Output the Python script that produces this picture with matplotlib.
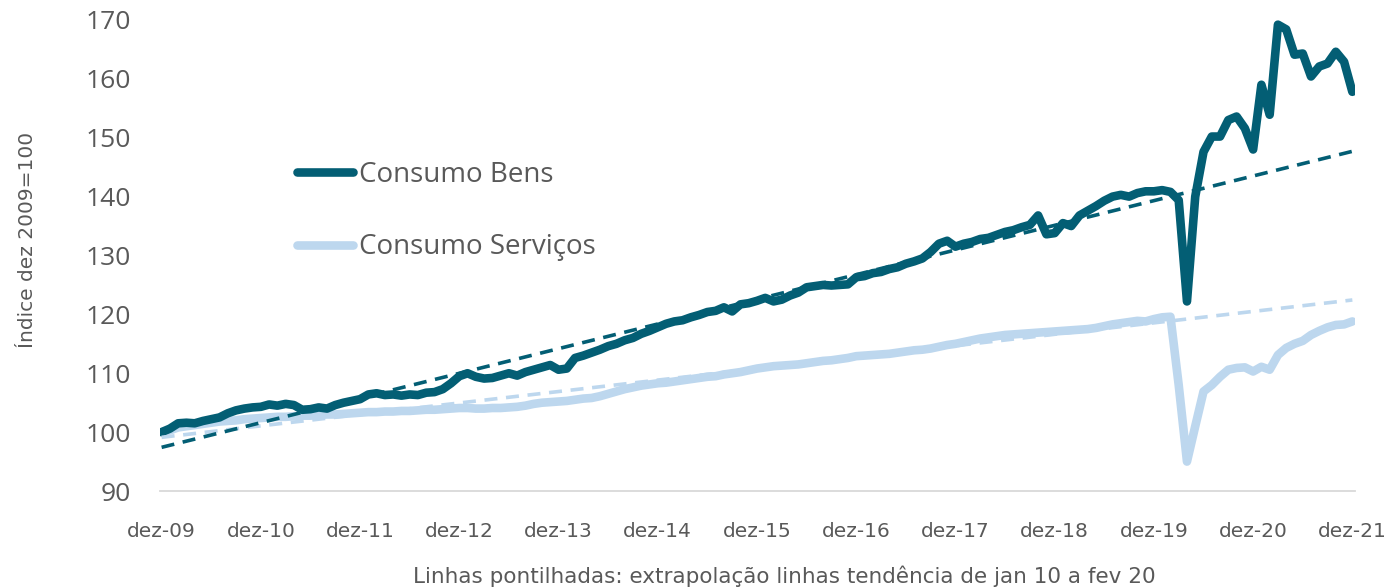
#!/usr/bin/env python3

import numpy as np
import matplotlib
matplotlib.use("Agg")
import matplotlib.pyplot as plt

# Índices mensais dez-09 .. dez-21 (dez 2009 = 100)
bens = [
    100.0, 100.6, 101.5, 101.6, 101.5, 101.9, 102.2, 102.5, 103.2, 103.7, 104.0, 104.2, 104.3,
    104.7, 104.5, 104.8, 104.6, 103.8, 103.9, 104.2, 104.0, 104.6, 105.0, 105.3, 105.6,
    106.4, 106.6, 106.3, 106.4, 106.2, 106.4, 106.3, 106.7, 106.8, 107.3, 108.3, 109.5,
    110.0, 109.4, 109.1, 109.2, 109.6, 110.0, 109.6, 110.2, 110.6, 111.0, 111.4, 110.6,
    110.8, 112.6, 113.0, 113.5, 114.0, 114.6, 115.0, 115.6, 116.0, 116.7, 117.2, 117.8,
    118.4, 118.8, 119.0, 119.5, 119.9, 120.4, 120.6, 121.2, 120.5, 121.7, 121.9, 122.3,
    122.8, 122.2, 122.5, 123.2, 123.7, 124.6, 124.8, 125.0, 124.9, 125.0, 125.1, 126.3,
    126.5, 127.0, 127.2, 127.7, 128.0, 128.6, 129.0, 129.5, 130.6, 132.0, 132.5, 131.5,
    132.0, 132.3, 132.8, 133.0, 133.5, 134.0, 134.3, 134.8, 135.2, 136.8, 133.6, 133.8,
    135.5, 135.0, 136.8, 137.6, 138.4, 139.3, 140.0, 140.3, 140.0, 140.6, 140.9, 140.9,
    141.1, 140.8, 139.4, 122.2, 140.0, 147.6, 150.2, 150.2, 153.0, 153.6, 151.6, 148.0,
    159.0, 153.9, 169.2, 168.4, 164.1, 164.3, 160.4, 162.1, 162.6, 164.6, 162.9, 157.8,
]

servicos = [
    100.0, 100.3, 100.8, 101.0, 101.2, 101.4, 101.6, 101.8, 101.9, 102.0, 102.2, 102.3, 102.4,
    102.5, 102.6, 102.6, 102.7, 102.8, 102.8, 102.9, 103.0, 103.0, 103.1, 103.2, 103.3,
    103.4, 103.4, 103.5, 103.5, 103.6, 103.6, 103.7, 103.8, 103.8, 103.9, 104.0, 104.1,
    104.1, 104.0, 104.0, 104.1, 104.1, 104.2, 104.3, 104.5, 104.8, 105.0, 105.1, 105.2,
    105.3, 105.5, 105.7, 105.8, 106.1, 106.5, 106.9, 107.3, 107.6, 107.9, 108.1, 108.3,
    108.4, 108.6, 108.8, 109.0, 109.2, 109.4, 109.5, 109.8, 110.0, 110.2, 110.5, 110.8,
    111.0, 111.2, 111.3, 111.4, 111.5, 111.7, 111.9, 112.1, 112.2, 112.4, 112.6, 112.9,
    113.0, 113.1, 113.2, 113.3, 113.5, 113.7, 113.9, 114.0, 114.2, 114.5, 114.8, 115.0,
    115.3, 115.6, 115.9, 116.1, 116.3, 116.5, 116.6, 116.7, 116.8, 116.9, 117.0, 117.1,
    117.2, 117.3, 117.4, 117.5, 117.7, 118.0, 118.3, 118.5, 118.7, 118.9, 118.8, 119.2,
    119.5, 119.6, 108.0, 95.0, 101.0, 106.9, 108.0, 109.4, 110.6, 110.9, 111.0, 110.3,
    111.1, 110.6, 113.1, 114.3, 115.0, 115.5, 116.5, 117.2, 117.8, 118.2, 118.3, 118.8,
]

rotulos_x = ["dez-09", "dez-10", "dez-11", "dez-12", "dez-13", "dez-14", "dez-15",
             "dez-16", "dez-17", "dez-18", "dez-19", "dez-20", "dez-21"]

# janela da tendência: jan 10 (mês 1) a fev 20 (mês 122)
inicio_tend, fim_tend = 1, 122

COR_BENS = "#035E74"
COR_SERV = "#BDD7EE"
CINZA = "#595959"


def tendencia(x, y):
    """Reta ajustada na janela jan10-fev20 e extrapolada para todo o período."""
    coef = np.polyfit(x[inicio_tend:fim_tend + 1], y[inicio_tend:fim_tend + 1], 1)
    return np.polyval(coef, x)


def main():
    x = np.arange(len(bens))
    y_bens = np.array(bens)
    y_serv = np.array(servicos)

    fig = plt.figure(figsize=(13.91, 5.87), dpi=100)
    ax = fig.add_axes([0.115, 0.1635, 0.859, 0.8025])

    ax.plot(x, y_serv, color=COR_SERV, lw=6.2, solid_capstyle="round",
            solid_joinstyle="round", label="Consumo Serviços", zorder=2)
    ax.plot(x, y_bens, color=COR_BENS, lw=6.2, solid_capstyle="round",
            solid_joinstyle="round", label="Consumo Bens", zorder=3)

    # linhas pontilhadas de tendência
    ax.plot(x, tendencia(x, y_serv), color=COR_SERV, lw=2.6, dashes=(3.6, 2.4), zorder=4)
    ax.plot(x, tendencia(x, y_bens), color=COR_BENS, lw=2.6, dashes=(3.6, 2.4), zorder=5)

    ax.set_xlim(-0.2, 144.3)
    ax.set_ylim(90, 170)
    ax.set_yticks(np.arange(90, 171, 10))
    ax.set_xticks(np.arange(0, len(bens), 12))
    ax.set_xticklabels(rotulos_x)

    for lado in ["left", "right", "top"]:
        ax.spines[lado].set_visible(False)
    ax.spines["bottom"].set_color("#D9D9D9")
    ax.spines["bottom"].set_linewidth(1.3)
    ax.tick_params(axis="both", length=0, colors=CINZA)
    ax.tick_params(axis="y", labelsize=19, pad=21)
    ax.tick_params(axis="x", labelsize=14.5, pad=22)
    for t in ax.get_yticklabels():
        t.set_family("Open Sans")
    for t in ax.get_xticklabels():
        t.set_family("DejaVu Sans")

    ax.set_ylabel("Índice dez 2009=100", fontsize=14.5, color=CINZA, family="DejaVu Sans")
    ax.yaxis.set_label_coords(-0.103, 0.533)

    fig.text(0.564, 0.018, "Linhas pontilhadas: extrapolação linhas tendência de jan 10 a fev 20",
             ha="center", va="center", fontsize=15.5, color=CINZA, family="DejaVu Sans")

    handles, labels = ax.get_legend_handles_labels()
    leg = ax.legend(handles[::-1], labels[::-1], loc="center left",
                    bbox_to_anchor=(0.115, 0.594), frameon=False,
                    handlelength=2.0, handletextpad=0.22,
                    labelspacing=1.6, borderpad=0, borderaxespad=0,
                    prop={"family": "Open Sans", "size": 20})
    for t in leg.get_texts():
        t.set_color(CINZA)

    fig.savefig("out.png", dpi=100)


if __name__ == "__main__":
    main()
